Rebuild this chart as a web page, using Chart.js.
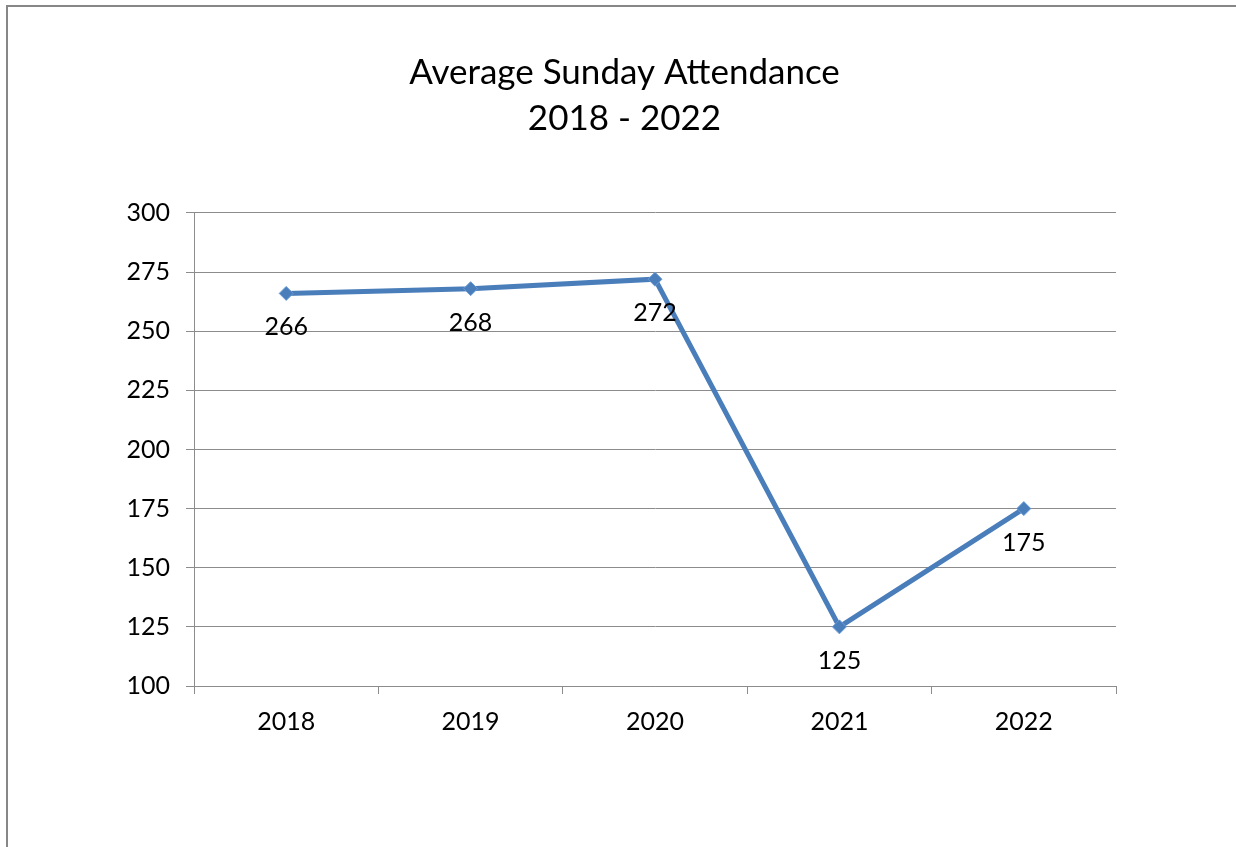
<!DOCTYPE html>
<html>
<head>
<meta charset="utf-8">
<script src="https://cdn.jsdelivr.net/npm/chart.js@4/dist/chart.umd.min.js"></script>
<style>
  html, body { margin: 0; padding: 0; background: #fff; overflow: hidden; width: 1236px; height: 847px; }
  #frame { position: absolute; left: 6px; top: 5px; width: 1240px; height: 900px;
           border-left: 2px solid #878787; border-top: 2px solid #878787; background: #fff; }
  canvas { position: absolute; left: 0; top: 0; }
</style>
</head>
<body>
<div id="frame"><canvas id="c" width="1233" height="840" style="width:1233px;height:840px"></canvas></div>
<script>
const categories = ['2018', '2019', '2020', '2021', '2022'];
const attendance = [266, 268, 272, 125, 175];
const titleLines = ['Average Sunday Attendance', '2018 - 2022'];
const yMin = 100, yMax = 300, yStep = 25;

const FONT = 'Lato, "Open Sans", "Noto Sans", sans-serif';
const LINE_COLOR = '#4a7ebb';
const GRID_COLOR = '#8c8c8c';

const valueLabels = {
  id: 'valueLabels',
  afterDatasetsDraw(chart) {
    const ctx = chart.ctx;
    const meta = chart.getDatasetMeta(0);
    const data = chart.data.datasets[0].data;
    ctx.save();
    ctx.font = '25px ' + FONT;
    ctx.fillStyle = '#000';
    ctx.textAlign = 'center';
    ctx.textBaseline = 'middle';
    meta.data.forEach((pt, i) => {
      ctx.fillText(String(data[i]), pt.x, pt.y + 34);
    });
    ctx.restore();
  }
};

new Chart(document.getElementById('c'), {
  type: 'line',
  data: {
    labels: categories,
    datasets: [{
      data: attendance,
      borderColor: LINE_COLOR,
      backgroundColor: LINE_COLOR,
      borderWidth: 5,
      pointStyle: 'rectRot',
      pointRadius: 7,
      pointBorderWidth: 1,
      pointBorderColor: '#6b9bd6',
      pointBackgroundColor: LINE_COLOR,
      tension: 0,
      fill: false
    }]
  },
  options: {
    responsive: false,
    animation: false,
    devicePixelRatio: 1,
    layout: { padding: 0 },
    plugins: {
      legend: { display: false },
      tooltip: { enabled: false },
      title: {
        display: true,
        text: titleLines,
        color: '#000',
        font: { family: FONT, size: 35, weight: 'normal', lineHeight: 1.314 },
        padding: { top: 43, bottom: 71 }
      }
    },
    scales: {
      x: {
        type: 'category',
        offset: true,
        afterFit(scale) { scale.height = 161; },
        grid: { display: true, offset: true, drawOnChartArea: false, drawTicks: true,
                tickLength: 8, color: GRID_COLOR, lineWidth: 1 },
        border: { display: true, color: GRID_COLOR, width: 1 },
        ticks: { color: '#000', font: { family: FONT, size: 25 }, padding: 13, maxRotation: 0 }
      },
      y: {
        min: yMin, max: yMax,
        afterFit(scale) { scale.width = 186; },
        grid: { color: GRID_COLOR, lineWidth: 1, tickLength: 8, drawTicks: true },
        border: { display: true, color: GRID_COLOR, width: 1 },
        ticks: { stepSize: yStep, color: '#000', font: { family: FONT, size: 25 }, padding: 16 }
      },
      rightSpace: {
        type: 'linear',
        position: 'right',
        afterFit(scale) { scale.width = 125; },
        grid: { display: false, drawOnChartArea: false, drawTicks: false },
        border: { display: false },
        ticks: { display: false }
      }
    }
  },
  plugins: [valueLabels]
});
</script>
</body>
</html>
